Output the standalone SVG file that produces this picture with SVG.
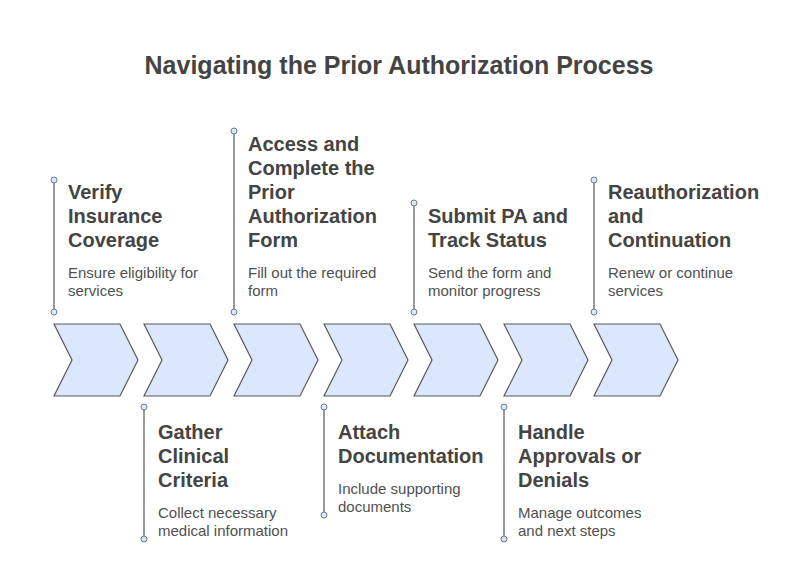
<svg xmlns="http://www.w3.org/2000/svg" width="798" height="563" viewBox="0 0 798 563">
<style>
.chev{fill:#dbe7fd;stroke:#5a5a5a;stroke-width:1.2}
.ln{stroke:#9a9a9a;stroke-width:2;fill:none}
.dot{fill:#dbe7fd;stroke:#6f7a88;stroke-width:1}
.t{font-family:"Liberation Sans",Arial,sans-serif;font-weight:bold;font-size:25px;fill:#444}
.h{font-family:"Liberation Sans",Arial,sans-serif;font-weight:bold;font-size:20px;fill:#444}
.d{font-family:"Liberation Sans",Arial,sans-serif;font-size:15px;fill:#505050}
</style>
<defs>
<polygon id="cv" points="0,0 66,0 84,36 66,72 0,72 18,36"/>
</defs>
<rect width="798" height="563" fill="#fff"/>
<text class="t" x="399" y="74" text-anchor="middle">Navigating the Prior Authorization Process</text>
<g id="connectors">
<line class="ln" x1="54" y1="180" x2="54" y2="312"/>
<line class="ln" x1="144" y1="407" x2="144" y2="539"/>
<line class="ln" x1="234" y1="131" x2="234" y2="312"/>
<line class="ln" x1="324" y1="407" x2="324" y2="515"/>
<line class="ln" x1="414" y1="203" x2="414" y2="312"/>
<line class="ln" x1="504" y1="407" x2="504" y2="539"/>
<line class="ln" x1="594" y1="180" x2="594" y2="312"/>
<circle class="dot" cx="54" cy="180" r="3"/><circle class="dot" cx="54" cy="312" r="3"/>
<circle class="dot" cx="144" cy="407" r="3"/><circle class="dot" cx="144" cy="539" r="3"/>
<circle class="dot" cx="234" cy="131" r="3"/><circle class="dot" cx="234" cy="312" r="3"/>
<circle class="dot" cx="324" cy="407" r="3"/><circle class="dot" cx="324" cy="515" r="3"/>
<circle class="dot" cx="414" cy="203" r="3"/><circle class="dot" cx="414" cy="312" r="3"/>
<circle class="dot" cx="504" cy="407" r="3"/><circle class="dot" cx="504" cy="539" r="3"/>
<circle class="dot" cx="594" cy="180" r="3"/><circle class="dot" cx="594" cy="312" r="3"/>
</g>
<g id="step1">
<use href="#cv" class="chev" x="54" y="324"/>
<text class="h"><tspan x="68" y="199">Verify</tspan><tspan x="68" y="223">Insurance</tspan><tspan x="68" y="247">Coverage</tspan></text>
<text class="d"><tspan x="68" y="278">Ensure eligibility for</tspan><tspan x="68" y="296">services</tspan></text>
</g>
<g id="step2">
<use href="#cv" class="chev" x="144" y="324"/>
<text class="h"><tspan x="158" y="439">Gather</tspan><tspan x="158" y="463">Clinical</tspan><tspan x="158" y="487">Criteria</tspan></text>
<text class="d"><tspan x="158" y="518">Collect necessary</tspan><tspan x="158" y="536">medical information</tspan></text>
</g>
<g id="step3">
<use href="#cv" class="chev" x="234" y="324"/>
<text class="h"><tspan x="248" y="151">Access and</tspan><tspan x="248" y="175">Complete the</tspan><tspan x="248" y="199">Prior</tspan><tspan x="248" y="223">Authorization</tspan><tspan x="248" y="247">Form</tspan></text>
<text class="d"><tspan x="248" y="278">Fill out the required</tspan><tspan x="248" y="296">form</tspan></text>
</g>
<g id="step4">
<use href="#cv" class="chev" x="324" y="324"/>
<text class="h"><tspan x="338" y="439">Attach</tspan><tspan x="338" y="463">Documentation</tspan></text>
<text class="d"><tspan x="338" y="494">Include supporting</tspan><tspan x="338" y="512">documents</tspan></text>
</g>
<g id="step5">
<use href="#cv" class="chev" x="414" y="324"/>
<text class="h"><tspan x="428" y="223">Submit PA and</tspan><tspan x="428" y="247">Track Status</tspan></text>
<text class="d"><tspan x="428" y="278">Send the form and</tspan><tspan x="428" y="296">monitor progress</tspan></text>
</g>
<g id="step6">
<use href="#cv" class="chev" x="504" y="324"/>
<text class="h"><tspan x="518" y="439">Handle</tspan><tspan x="518" y="463">Approvals or</tspan><tspan x="518" y="487">Denials</tspan></text>
<text class="d"><tspan x="518" y="518">Manage outcomes</tspan><tspan x="518" y="536">and next steps</tspan></text>
</g>
<g id="step7">
<use href="#cv" class="chev" x="594" y="324"/>
<text class="h"><tspan x="608" y="199">Reauthorization</tspan><tspan x="608" y="223">and</tspan><tspan x="608" y="247">Continuation</tspan></text>
<text class="d"><tspan x="608" y="278">Renew or continue</tspan><tspan x="608" y="296">services</tspan></text>
</g>
</svg>
